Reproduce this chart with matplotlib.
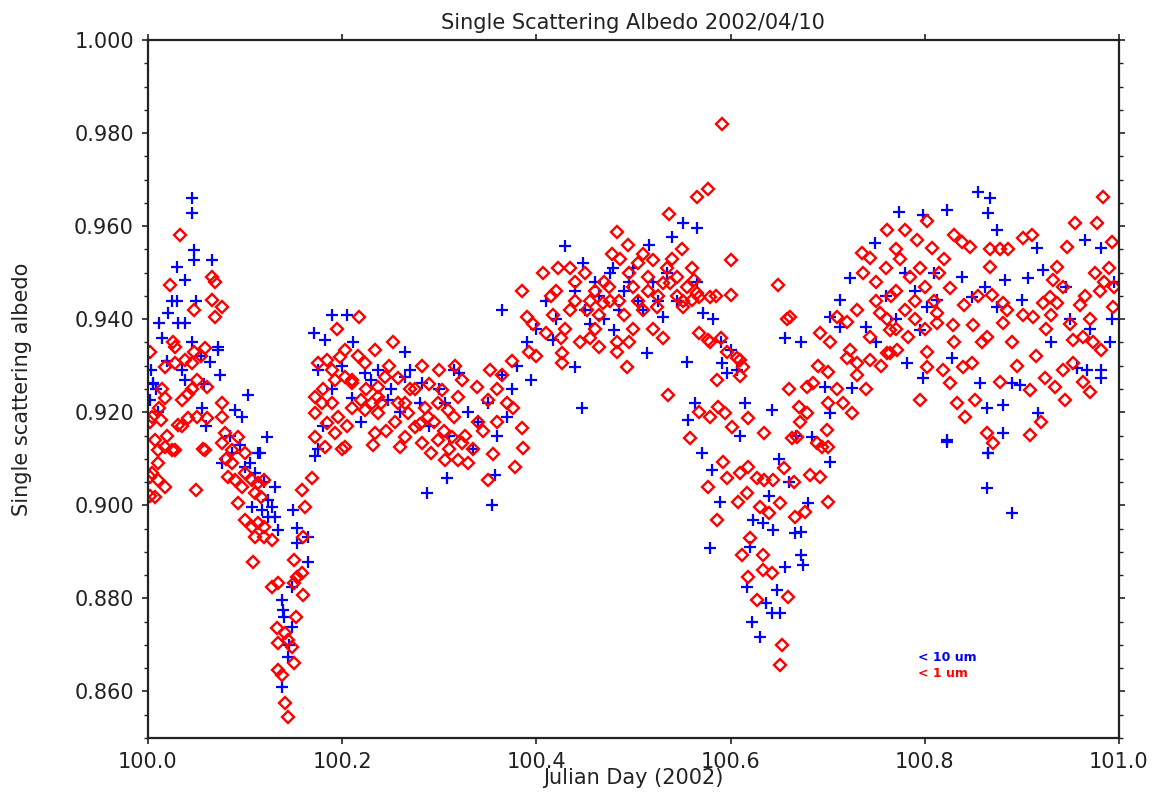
import matplotlib
matplotlib.use("Agg")
import matplotlib.pyplot as plt
from matplotlib.ticker import MultipleLocator, FormatStrFormatter

# (julian day, single scattering albedo)
ten_um = [
    # 100.00 - 100.08
    (100.002, 0.9226), (100.005, 0.9263), (100.005, 0.926), (100.008, 0.925), (100.012, 0.9392),
    (100.021, 0.9413), (100.031, 0.9392), (100.038, 0.9392), (100.030, 0.944), (100.030, 0.9512),
    (100.038, 0.9484), (100.046, 0.966), (100.046, 0.9628), (100.048, 0.9549), (100.048, 0.9527),
    (100.050, 0.944), (100.066, 0.9527), (100.072, 0.934), (100.064, 0.9308), (100.072, 0.9334),
    (100.038, 0.927), (100.074, 0.928), (100.056, 0.921), (100.015, 0.936), (100.025, 0.944),
    (100.045, 0.935), (100.055, 0.932), (100.060, 0.917), (100.003, 0.929), (100.020, 0.931),
    (100.035, 0.929), (100.058, 0.926), (100.010, 0.920),
    # first dip
    (100.090, 0.9205), (100.097, 0.919), (100.103, 0.9237), (100.123, 0.9147), (100.113, 0.9113),
    (100.076, 0.9091), (100.087, 0.9113), (100.100, 0.9083), (100.110, 0.907), (100.115, 0.9113),
    (100.131, 0.904), (100.107, 0.8996), (100.128, 0.8996), (100.131, 0.8975), (100.124, 0.8975),
    (100.134, 0.8947), (100.118, 0.899), (100.124, 0.9011), (100.154, 0.8951), (100.165, 0.8932),
    (100.154, 0.8919), (100.165, 0.8878), (100.148, 0.8825), (100.138, 0.8797), (100.139, 0.8775),
    (100.148, 0.8739), (100.144, 0.8674), (100.138, 0.861), (100.150, 0.899), (100.085, 0.915),
    (100.095, 0.913), (100.105, 0.909), (100.120, 0.905), (100.140, 0.876), (100.145, 0.870),
    # 100.17 - 100.40
    (100.190, 0.941), (100.205, 0.941), (100.171, 0.937), (100.182, 0.9355), (100.265, 0.933),
    (100.175, 0.929), (100.320, 0.9285), (100.211, 0.935), (100.224, 0.9285), (100.237, 0.9291),
    (100.247, 0.9226), (100.265, 0.9276), (100.306, 0.922), (100.282, 0.9263), (100.172, 0.9105),
    (100.287, 0.9027), (100.308, 0.9059), (100.190, 0.925), (100.200, 0.930), (100.210, 0.923),
    (100.220, 0.918), (100.230, 0.927), (100.250, 0.925), (100.260, 0.920), (100.270, 0.929),
    (100.280, 0.922), (100.290, 0.917), (100.300, 0.925), (100.310, 0.915), (100.315, 0.929),
    (100.330, 0.920), (100.335, 0.912), (100.340, 0.918), (100.350, 0.922), (100.354, 0.900),
    (100.357, 0.9065), (100.360, 0.915), (100.365, 0.928), (100.370, 0.919), (100.375, 0.925),
    (100.380, 0.930), (100.390, 0.935), (100.395, 0.927), (100.365, 0.942), (100.175, 0.912),
    (100.180, 0.917),
    # 100.40 - 100.61
    (100.400, 0.938), (100.410, 0.944), (100.420, 0.940), (100.430, 0.9557), (100.440, 0.946),
    (100.447, 0.921), (100.450, 0.942), (100.448, 0.952), (100.460, 0.948), (100.470, 0.940),
    (100.479, 0.951), (100.476, 0.950), (100.480, 0.9377), (100.490, 0.946), (100.500, 0.951),
    (100.505, 0.944), (100.514, 0.9327), (100.510, 0.942), (100.516, 0.956), (100.520, 0.948),
    (100.530, 0.9405), (100.540, 0.9577), (100.545, 0.944), (100.551, 0.9607), (100.565, 0.9596),
    (100.555, 0.9308), (100.565, 0.948), (100.572, 0.9413), (100.582, 0.940), (100.596, 0.9285),
    (100.615, 0.922), (100.590, 0.935), (100.417, 0.9355), (100.440, 0.9297), (100.601, 0.9334),
    (100.591, 0.9306), (100.607, 0.929), (100.455, 0.939), (100.465, 0.945), (100.485, 0.942),
    (100.495, 0.948), (100.525, 0.944), (100.535, 0.950),
    # second dip
    (100.556, 0.9183), (100.563, 0.922), (100.643, 0.9205), (100.571, 0.9113), (100.581, 0.9076),
    (100.589, 0.9007), (100.623, 0.8969), (100.633, 0.8962), (100.644, 0.8947), (100.579, 0.8908),
    (100.620, 0.891), (100.656, 0.8868), (100.617, 0.8825), (100.648, 0.8818), (100.637, 0.879),
    (100.643, 0.8769), (100.651, 0.8769), (100.622, 0.875), (100.630, 0.8717), (100.702, 0.9093),
    (100.680, 0.9005), (100.666, 0.894), (100.673, 0.8943), (100.673, 0.8893), (100.675, 0.8872),
    (100.656, 0.936), (100.673, 0.935), (100.684, 0.9147), (100.697, 0.9255), (100.702, 0.9198),
    (100.725, 0.9252), (100.660, 0.905), (100.650, 0.910), (100.667, 0.915), (100.640, 0.902),
    (100.610, 0.915),
    # 100.70 - 101.00
    (100.855, 0.9673), (100.867, 0.966), (100.865, 0.9628), (100.874, 0.9592), (100.774, 0.963),
    (100.823, 0.9635), (100.798, 0.9624), (100.965, 0.957), (100.982, 0.9553), (100.916, 0.9553),
    (100.749, 0.9564), (100.723, 0.9489), (100.782, 0.9306), (100.823, 0.914), (100.865, 0.9113),
    (100.881, 0.9155), (100.917, 0.9198), (100.798, 0.9274), (100.828, 0.9317), (100.857, 0.9263),
    (100.864, 0.921), (100.890, 0.9263), (100.898, 0.9259), (100.881, 0.9216), (100.957, 0.9295),
    (100.967, 0.9291), (100.982, 0.9291), (100.982, 0.9274), (100.991, 0.935), (100.993, 0.940),
    (100.922, 0.9506), (100.906, 0.9489), (100.883, 0.9484), (100.900, 0.9441), (100.862, 0.947),
    (100.874, 0.9426), (100.849, 0.9448), (100.838, 0.9491), (100.795, 0.9377), (100.802, 0.9426),
    (100.813, 0.9441), (100.740, 0.9383), (100.713, 0.9441), (100.702, 0.9405), (100.713, 0.9383),
    (100.864, 0.9037), (100.890, 0.8984), (100.865, 0.9113), (100.823, 0.9136), (100.760, 0.945),
    (100.780, 0.950), (100.790, 0.946), (100.810, 0.950), (100.750, 0.935), (100.770, 0.940),
    (100.930, 0.935), (100.950, 0.940), (100.970, 0.938), (100.995, 0.948), (100.945, 0.947),
]

one_um = [
    # 100.00 - 100.08
    (100.002, 0.933), (100.002, 0.906), (100.002, 0.902), (100.002, 0.918), (100.004, 0.919),
    (100.007, 0.914), (100.007, 0.9018), (100.010, 0.9119), (100.010, 0.9091), (100.010, 0.9055),
    (100.004, 0.907), (100.014, 0.9183), (100.018, 0.9125), (100.018, 0.904), (100.018, 0.9297),
    (100.018, 0.923), (100.023, 0.9473), (100.025, 0.9119), (100.026, 0.935), (100.028, 0.934),
    (100.028, 0.9306), (100.028, 0.9119), (100.031, 0.9173), (100.033, 0.958), (100.035, 0.9226),
    (100.038, 0.9312), (100.041, 0.924), (100.041, 0.9188), (100.045, 0.9306), (100.048, 0.942),
    (100.048, 0.933), (100.050, 0.9033), (100.051, 0.927), (100.051, 0.919), (100.057, 0.912),
    (100.059, 0.9338), (100.059, 0.9119), (100.061, 0.9255), (100.061, 0.9188), (100.066, 0.9441),
    (100.066, 0.949), (100.069, 0.948), (100.069, 0.9405), (100.076, 0.9426), (100.076, 0.922),
    (100.076, 0.919), (100.079, 0.9155), (100.076, 0.9134), (100.012, 0.921), (100.015, 0.925),
    (100.020, 0.915), (100.035, 0.917), (100.045, 0.925), (100.055, 0.932),
    # first dip
    (100.087, 0.9091), (100.090, 0.9055), (100.097, 0.904), (100.100, 0.907), (100.107, 0.9055),
    (100.113, 0.9048), (100.120, 0.9055), (100.117, 0.9018), (100.110, 0.9027), (100.093, 0.9005),
    (100.093, 0.9147), (100.087, 0.9119), (100.100, 0.9113), (100.100, 0.8969), (100.107, 0.8954),
    (100.113, 0.8962), (100.120, 0.8954), (100.110, 0.8932), (100.120, 0.8932), (100.128, 0.8926),
    (100.108, 0.8878), (100.128, 0.8825), (100.134, 0.8833), (100.133, 0.8736), (100.141, 0.8726),
    (100.134, 0.8704), (100.144, 0.8711), (100.148, 0.8696), (100.151, 0.8661), (100.134, 0.8646),
    (100.138, 0.8635), (100.141, 0.8575), (100.144, 0.8545), (100.151, 0.8883), (100.154, 0.8846),
    (100.159, 0.8855), (100.151, 0.8833), (100.160, 0.8807), (100.153, 0.876), (100.160, 0.8932),
    (100.159, 0.9033), (100.162, 0.8996), (100.169, 0.9059), (100.083, 0.906), (100.080, 0.910),
    # 100.17 - 100.40
    (100.172, 0.9233), (100.179, 0.922), (100.172, 0.9198), (100.190, 0.922), (100.196, 0.919),
    (100.185, 0.9177), (100.193, 0.9155), (100.172, 0.9147), (100.182, 0.9125), (100.203, 0.9125),
    (100.175, 0.9306), (100.185, 0.9312), (100.198, 0.9319), (100.203, 0.9334), (100.216, 0.932),
    (100.224, 0.9306), (100.234, 0.9334), (100.193, 0.927), (100.203, 0.9276), (100.210, 0.9263),
    (100.195, 0.938), (100.217, 0.9405), (100.220, 0.9226), (100.231, 0.922), (100.237, 0.9233),
    (100.237, 0.9255), (100.244, 0.9276), (100.224, 0.9205), (100.237, 0.9198), (100.234, 0.9155),
    (100.232, 0.913), (100.252, 0.935), (100.258, 0.9274), (100.258, 0.922), (100.268, 0.9198),
    (100.275, 0.9168), (100.265, 0.9147), (100.260, 0.9125), (100.282, 0.930), (100.288, 0.919),
    (100.299, 0.922), (100.309, 0.9205), (100.282, 0.9134), (100.299, 0.914), (100.313, 0.9147),
    (100.323, 0.9134), (100.303, 0.9248), (100.319, 0.9233), (100.323, 0.927), (100.300, 0.929),
    (100.316, 0.930), (100.292, 0.9113), (100.306, 0.9098), (100.319, 0.9098), (100.330, 0.9091),
    (100.310, 0.912), (100.327, 0.915), (100.335, 0.912), (100.340, 0.918), (100.339, 0.9255),
    (100.352, 0.929), (100.350, 0.9226), (100.350, 0.9055), (100.345, 0.916), (100.360, 0.925),
    (100.365, 0.928), (100.370, 0.922), (100.378, 0.9083), (100.386, 0.9123), (100.385, 0.9166),
    (100.376, 0.921), (100.375, 0.931), (100.355, 0.911), (100.360, 0.918), (100.248, 0.930),
    (100.270, 0.925), (100.290, 0.926), (100.245, 0.916), (100.280, 0.9175), (100.200, 0.912),
    (100.205, 0.917), (100.210, 0.921), (100.180, 0.925), (100.190, 0.929), (100.210, 0.927),
    (100.225, 0.925), (100.240, 0.922), (100.255, 0.918), (100.265, 0.922), (100.275, 0.925),
    (100.285, 0.921), (100.295, 0.918), (100.305, 0.916), (100.315, 0.919),
    # 100.38 - 100.61
    (100.385, 0.946), (100.393, 0.933), (100.400, 0.932), (100.390, 0.9405), (100.397, 0.939),
    (100.407, 0.950), (100.422, 0.951), (100.435, 0.951), (100.450, 0.950), (100.478, 0.954),
    (100.486, 0.953), (100.510, 0.954), (100.520, 0.9527), (100.540, 0.953), (100.550, 0.955),
    (100.560, 0.951), (100.483, 0.9587), (100.494, 0.956), (100.537, 0.9626), (100.565, 0.9663),
    (100.577, 0.968), (100.591, 0.982), (100.417, 0.941), (100.435, 0.942), (100.452, 0.942),
    (100.469, 0.9435), (100.476, 0.944), (100.510, 0.942), (100.524, 0.9426), (100.538, 0.9478),
    (100.530, 0.9478), (100.427, 0.9327), (100.427, 0.9306), (100.445, 0.935), (100.483, 0.933),
    (100.493, 0.9297), (100.536, 0.9237), (100.483, 0.935), (100.460, 0.946), (100.470, 0.948),
    (100.500, 0.947), (100.505, 0.944), (100.515, 0.946), (100.545, 0.945), (100.490, 0.941),
    (100.440, 0.944), (100.410, 0.937), (100.415, 0.945), (100.430, 0.938), (100.460, 0.938),
    (100.500, 0.938), (100.530, 0.936), (100.551, 0.944), (100.551, 0.9426), (100.568, 0.9448),
    (100.579, 0.9448), (100.577, 0.9355), (100.590, 0.936), (100.596, 0.933), (100.607, 0.9317),
    (100.586, 0.927), (100.610, 0.9277), (100.600, 0.9527), (100.600, 0.9452), (100.562, 0.9484),
    (100.565, 0.9456), (100.560, 0.9441), (100.568, 0.937), (100.579, 0.935), (100.610, 0.9312),
    (100.613, 0.9297), (100.585, 0.945), (100.455, 0.944), (100.465, 0.941), (100.475, 0.947),
    (100.485, 0.944), (100.495, 0.950), (100.505, 0.952), (100.515, 0.949), (100.525, 0.945),
    (100.535, 0.951), (100.545, 0.949), (100.555, 0.947), (100.520, 0.938), (100.495, 0.935),
    (100.465, 0.934), (100.425, 0.936), (100.455, 0.936), (100.440, 0.948), (100.420, 0.946),
    # second dip
    (100.558, 0.9145), (100.568, 0.920), (100.579, 0.919), (100.587, 0.9212), (100.594, 0.9198),
    (100.602, 0.9168), (100.618, 0.9188), (100.635, 0.9155), (100.663, 0.9145), (100.577, 0.904),
    (100.592, 0.9093), (100.596, 0.9059), (100.610, 0.907), (100.618, 0.9083), (100.627, 0.9059),
    (100.635, 0.9055), (100.644, 0.9055), (100.586, 0.8969), (100.608, 0.9007), (100.617, 0.9027),
    (100.630, 0.8996), (100.640, 0.8984), (100.651, 0.9005), (100.612, 0.8893), (100.633, 0.8893),
    (100.618, 0.8846), (100.633, 0.886), (100.643, 0.8855), (100.627, 0.8797), (100.659, 0.8803),
    (100.653, 0.870), (100.651, 0.8657), (100.649, 0.9473), (100.658, 0.940), (100.666, 0.8975),
    (100.677, 0.8986), (100.700, 0.9007), (100.682, 0.9065), (100.692, 0.906), (100.694, 0.9125),
    (100.668, 0.9147), (100.689, 0.9134), (100.699, 0.9162), (100.700, 0.9125), (100.671, 0.9212),
    (100.679, 0.9198), (100.679, 0.9255), (100.685, 0.9263), (100.700, 0.9287), (100.716, 0.922),
    (100.725, 0.9198), (100.661, 0.9405), (100.692, 0.937), (100.702, 0.935), (100.660, 0.925),
    (100.672, 0.918), (100.655, 0.908), (100.665, 0.905), (100.620, 0.893),
    # 100.70 - 101.00
    (100.720, 0.9317), (100.730, 0.9306), (100.744, 0.9312), (100.761, 0.9327), (100.771, 0.9334),
    (100.723, 0.9334), (100.744, 0.9362), (100.710, 0.9405), (100.720, 0.9394), (100.730, 0.942),
    (100.735, 0.9542), (100.744, 0.9532), (100.736, 0.950), (100.754, 0.9413), (100.761, 0.940),
    (100.764, 0.9377), (100.761, 0.9592), (100.780, 0.9592), (100.802, 0.961), (100.808, 0.9553),
    (100.783, 0.9362), (100.802, 0.933), (100.764, 0.9327), (100.750, 0.948), (100.760, 0.951),
    (100.770, 0.946), (100.775, 0.953), (100.785, 0.949), (100.790, 0.944), (100.795, 0.951),
    (100.800, 0.947), (100.810, 0.944), (100.815, 0.950), (100.750, 0.944), (100.765, 0.945),
    (100.780, 0.942), (100.813, 0.9413), (100.813, 0.9392), (100.826, 0.9467), (100.829, 0.9388),
    (100.850, 0.9388), (100.838, 0.9566), (100.847, 0.9555), (100.867, 0.955), (100.877, 0.955),
    (100.886, 0.955), (100.867, 0.9512), (100.901, 0.9575), (100.910, 0.958), (100.869, 0.9452),
    (100.881, 0.9435), (100.885, 0.942), (100.881, 0.9392), (100.901, 0.9409), (100.911, 0.9405),
    (100.936, 0.9512), (100.932, 0.9484), (100.942, 0.947), (100.929, 0.9448), (100.936, 0.9435),
    (100.922, 0.9435), (100.946, 0.9555), (100.955, 0.9607), (100.977, 0.9607), (100.984, 0.9663),
    (100.993, 0.9566), (100.975, 0.950), (100.985, 0.948), (100.990, 0.951), (100.995, 0.947),
    (100.980, 0.946), (100.994, 0.9426), (100.982, 0.9334), (100.953, 0.9355), (100.963, 0.9362),
    (100.973, 0.935), (100.942, 0.9291), (100.953, 0.9306), (100.963, 0.9265), (100.970, 0.9244),
    (100.944, 0.9226), (100.924, 0.9274), (100.934, 0.9255), (100.908, 0.9248), (100.877, 0.9265),
    (100.908, 0.9151), (100.920, 0.918), (100.864, 0.9155), (100.870, 0.9134), (100.833, 0.922),
    (100.841, 0.919), (100.852, 0.9226), (100.839, 0.9297), (100.849, 0.9306), (100.859, 0.935),
    (100.864, 0.9362), (100.819, 0.9291), (100.826, 0.9263), (100.802, 0.9297), (100.795, 0.9226),
    (100.700, 0.922), (100.690, 0.930), (100.710, 0.925), (100.730, 0.928), (100.740, 0.925),
    (100.755, 0.930), (100.770, 0.938), (100.790, 0.940), (100.800, 0.938), (100.840, 0.943),
    (100.855, 0.945), (100.830, 0.935), (100.890, 0.935), (100.895, 0.930), (100.915, 0.932),
    (100.925, 0.938), (100.930, 0.941), (100.950, 0.939), (100.960, 0.943), (100.970, 0.940),
    (100.965, 0.945), (100.820, 0.953), (100.830, 0.958), (100.792, 0.957), (100.770, 0.955),
]

legend_text = ["< 10 um", "< 1 um"]
blue = "#0000ff"
red = "#ff0000"
ink = "#222222"

fig = plt.figure(figsize=(11.64, 8.0), dpi=100)
ax = fig.add_axes([0.127, 0.0775, 0.8343, 0.8725])

ax.plot([p[0] for p in ten_um], [p[1] for p in ten_um], linestyle="none",
        marker="+", markersize=8, markeredgewidth=1.6, color=blue)
ax.plot([p[0] for p in one_um], [p[1] for p in one_um], linestyle="none",
        marker="D", markersize=6.5, markeredgewidth=1.7, markerfacecolor="none",
        markeredgecolor=red)

ax.set_xlim(100.0, 101.0)
ax.set_ylim(0.850, 1.000)
ax.xaxis.set_major_locator(MultipleLocator(0.2))
ax.yaxis.set_major_locator(MultipleLocator(0.02))
ax.yaxis.set_minor_locator(MultipleLocator(0.005))
ax.xaxis.set_major_formatter(FormatStrFormatter("%.1f"))
ax.yaxis.set_major_formatter(FormatStrFormatter("%.3f"))
ax.tick_params(which="both", direction="out", top=True, right=True,
               labelsize=15, colors=ink, pad=6)
ax.tick_params(which="major", length=4, width=1.2)
ax.tick_params(which="minor", length=3, width=1.0)
for s in ax.spines.values():
    s.set_linewidth(1.6)
    s.set_color(ink)

ax.set_title("Single Scattering Albedo 2002/04/10", fontsize=15, color=ink, pad=8)
ax.set_xlabel("Julian Day (2002)", fontsize=15, color=ink, labelpad=-3)
ax.set_ylabel("Single scattering albedo", fontsize=15, color=ink, labelpad=30)

ax.text(0.793, 0.116, legend_text[0], transform=ax.transAxes, color=blue,
        fontsize=9, fontweight="bold", va="center")
ax.text(0.793, 0.093, legend_text[1], transform=ax.transAxes, color=red,
        fontsize=9, fontweight="bold", va="center")

fig.savefig("out.png", dpi=100)
